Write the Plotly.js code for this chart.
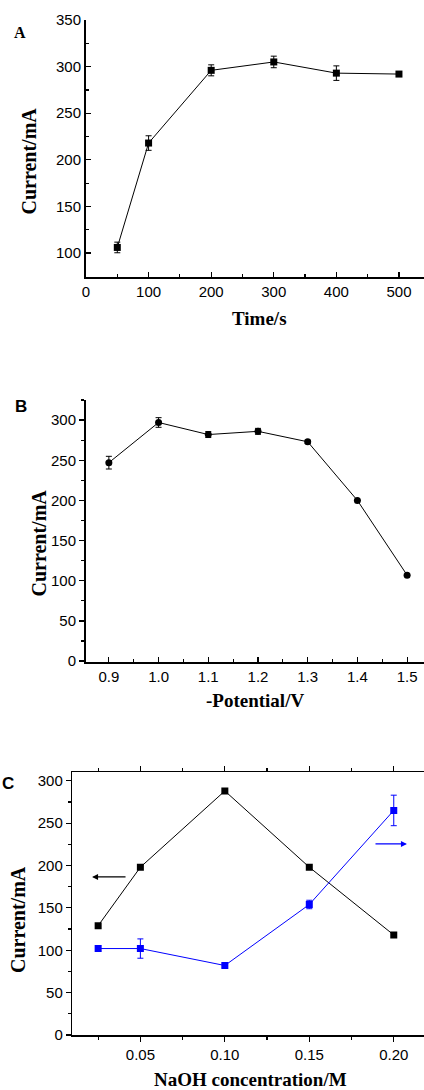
<!DOCTYPE html>
<html>
<head>
<meta charset="utf-8">
<script src="https://cdn.plot.ly/plotly-3.0.1.min.js"></script>
<style>
html,body{margin:0;padding:0;background:#fff;overflow:hidden;}
#chart{width:424px;height:1090px;}
</style>
</head>
<body>
<div id="chart"></div>
<script>
// ---- Panel A data ----
const timeS = [50, 100, 200, 300, 400, 500];
const currentA = [106, 218, 296, 305, 293, 292];
const errA = [5.7, 7.8, 5.9, 6.2, 7.8, 0];

// ---- Panel B data ----
const potential = [0.9, 1.0, 1.1, 1.2, 1.3, 1.4, 1.5];
const currentB = [247, 297, 282, 286, 273, 200, 107];
const errB = [7.9, 6, 3.7, 3.7, 2, 0, 0];

// ---- Panel C data ----
const naoh = [0.025, 0.05, 0.10, 0.15, 0.20];
const currentCBlack = [129, 198, 288, 198, 118];
const currentCBlue = [102, 102, 82, 154, 265];
const errCBlue = [3, 11.4, 2, 5, 18];

const tickLabelsA = ['0', '100', '200', '300', '400', '500'];
const tickLabelsB = ['0.9', '1.0', '1.1', '1.2', '1.3', '1.4', '1.5'];
const tickLabelsC = ['0.05', '0.10', '0.15', '0.20'];

const W = 424, H = 1090;
const px = (x) => x / W;
const py = (y) => 1 - y / H;

const sans = '"Liberation Sans", Arial, sans-serif';
const serif = '"Liberation Serif", "Times New Roman", serif';
const tickFont = {family: sans, size: 15, color: '#000'};
const titleFont = {family: serif, size: 20, color: '#000'};

const traces = [
  {x: timeS, y: currentA, xaxis: 'x', yaxis: 'y', type: 'scatter', mode: 'lines+markers',
   line: {color: '#000', width: 1}, marker: {symbol: 'square', size: 7, color: '#000'},
   error_y: {type: 'data', array: errA, visible: true, color: '#000', thickness: 1, width: 3}},
  {x: potential, y: currentB, xaxis: 'x2', yaxis: 'y2', type: 'scatter', mode: 'lines+markers',
   line: {color: '#000', width: 1}, marker: {symbol: 'circle', size: 7, color: '#000'},
   error_y: {type: 'data', array: errB, visible: true, color: '#000', thickness: 1, width: 3}},
  {x: naoh, y: currentCBlack, xaxis: 'x3', yaxis: 'y3', type: 'scatter', mode: 'lines+markers',
   line: {color: '#000', width: 1}, marker: {symbol: 'square', size: 7, color: '#000'}},
  {x: naoh, y: currentCBlue, xaxis: 'x3', yaxis: 'y3', type: 'scatter', mode: 'lines+markers',
   line: {color: '#0000ff', width: 1}, marker: {symbol: 'square', size: 7, color: '#0000ff'},
   error_y: {type: 'data', array: errCBlue, visible: true, color: '#0000ff', thickness: 1, width: 3}}
];

const baseAxis = {
  showgrid: false, zeroline: false, showline: true, linecolor: '#000',
  tickcolor: '#000', tickfont: tickFont, ticklen: 5, tickwidth: 1.2
};

const layout = {
  width: W, height: H, margin: {l: 0, r: 0, t: 0, b: 0},
  paper_bgcolor: '#fff', plot_bgcolor: '#fff', showlegend: false,
  // Panel A
  xaxis: Object.assign({}, baseAxis, {domain: [px(86), 1], anchor: 'y', range: [0, 540],
    tickvals: [0, 100, 200, 300, 400, 500], ticktext: tickLabelsA, ticks: 'inside', linewidth: 2,
    minor: {dtick: 50, tick0: 0, ticks: 'inside', ticklen: 3, tickcolor: '#000'}}),
  yaxis: Object.assign({}, baseAxis, {domain: [py(277), py(20)], anchor: 'x', range: [74.3, 350],
    tickvals: [100, 150, 200, 250, 300, 350], ticks: 'inside', linewidth: 2,
    minor: {dtick: 25, tick0: 0, ticks: 'inside', ticklen: 3, tickcolor: '#000'}}),
  // Panel B
  xaxis2: Object.assign({}, baseAxis, {domain: [px(86), 1], anchor: 'y2', range: [0.854, 1.534],
    tickvals: potential, ticktext: tickLabelsB, ticks: 'inside', linewidth: 2,
    minor: {dtick: 0.05, tick0: 0.85, ticks: 'inside', ticklen: 3, tickcolor: '#000'}}),
  yaxis2: Object.assign({}, baseAxis, {domain: [py(661.5), py(400)], anchor: 'x2', range: [-0.5, 325],
    tickvals: [0, 50, 100, 150, 200, 250, 300], ticks: 'outside', linewidth: 2,
    minor: {dtick: 25, tick0: 0, ticks: 'outside', ticklen: 3, tickcolor: '#000'}}),
  // Panel C
  xaxis3: Object.assign({}, baseAxis, {domain: [px(72.3), 1], anchor: 'y3', range: [0.0097, 0.2179],
    tickvals: [0.05, 0.10, 0.15, 0.20], ticktext: tickLabelsC, ticks: 'outside', linewidth: 1.5,
    mirror: 'ticks',
    minor: {dtick: 0.025, tick0: 0, ticks: 'outside', ticklen: 3, tickcolor: '#000'}}),
  yaxis3: Object.assign({}, baseAxis, {domain: [py(1035), py(772.3)], anchor: 'x3', range: [0, 310],
    tickvals: [0, 50, 100, 150, 200, 250, 300], ticks: 'outside', linewidth: 1.5,
    minor: {dtick: 25, tick0: 0, ticks: 'outside', ticklen: 3, tickcolor: '#000'}}),
  annotations: [
    // panel labels
    {xref: 'paper', yref: 'paper', x: px(19.5), y: py(32), text: '<b>A</b>', showarrow: false,
     font: {family: serif, size: 16, color: '#000'}, xanchor: 'center', yanchor: 'middle'},
    {xref: 'paper', yref: 'paper', x: px(21), y: py(406), text: '<b>B</b>', showarrow: false,
     font: {family: sans, size: 17, color: '#000'}, xanchor: 'center', yanchor: 'middle'},
    {xref: 'paper', yref: 'paper', x: px(8), y: py(783.5), text: '<b>C</b>', showarrow: false,
     font: {family: sans, size: 17, color: '#000'}, xanchor: 'center', yanchor: 'middle'},
    // axis titles
    {xref: 'paper', yref: 'paper', x: px(29), y: py(161.5), text: '<b>Current/mA</b>', textangle: -90,
     showarrow: false, font: titleFont, xanchor: 'center', yanchor: 'middle'},
    {xref: 'paper', yref: 'paper', x: px(259), y: py(318), text: '<b>Time/s</b>',
     showarrow: false, font: {family: serif, size: 19, color: '#000'}, xanchor: 'center', yanchor: 'middle'},
    {xref: 'paper', yref: 'paper', x: px(38), y: py(543.5), text: '<b>Current/mA</b>', textangle: -90,
     showarrow: false, font: titleFont, xanchor: 'center', yanchor: 'middle'},
    {xref: 'paper', yref: 'paper', x: px(255), y: py(700), text: '<b>-Potential/V</b>',
     showarrow: false, font: {family: serif, size: 19, color: '#000'}, xanchor: 'center', yanchor: 'middle'},
    {xref: 'paper', yref: 'paper', x: px(18), y: py(920), text: '<b>Current/mA</b>', textangle: -90,
     showarrow: false, font: titleFont, xanchor: 'center', yanchor: 'middle'},
    {xref: 'paper', yref: 'paper', x: px(250), y: py(1079), text: '<b>NaOH concentration/M</b>',
     showarrow: false, font: {family: serif, size: 19, color: '#000'}, xanchor: 'center', yanchor: 'middle'},
    // series arrows in panel C
    {xref: 'x3', yref: 'y3', x: 0.0214, y: 186.5, axref: 'x3', ayref: 'y3', ax: 0.0421, ay: 186.5,
     text: '', showarrow: true, arrowhead: 2, arrowsize: 1, arrowwidth: 1.2, arrowcolor: '#000'},
    {xref: 'x3', yref: 'y3', x: 0.2078, y: 225.5, axref: 'x3', ayref: 'y3', ax: 0.1883, ay: 225.5,
     text: '', showarrow: true, arrowhead: 2, arrowsize: 1, arrowwidth: 1.2, arrowcolor: '#0000ff'}
  ]
};

Plotly.newPlot('chart', traces, layout, {staticPlot: true, displayModeBar: false});
</script>
</body>
</html>
